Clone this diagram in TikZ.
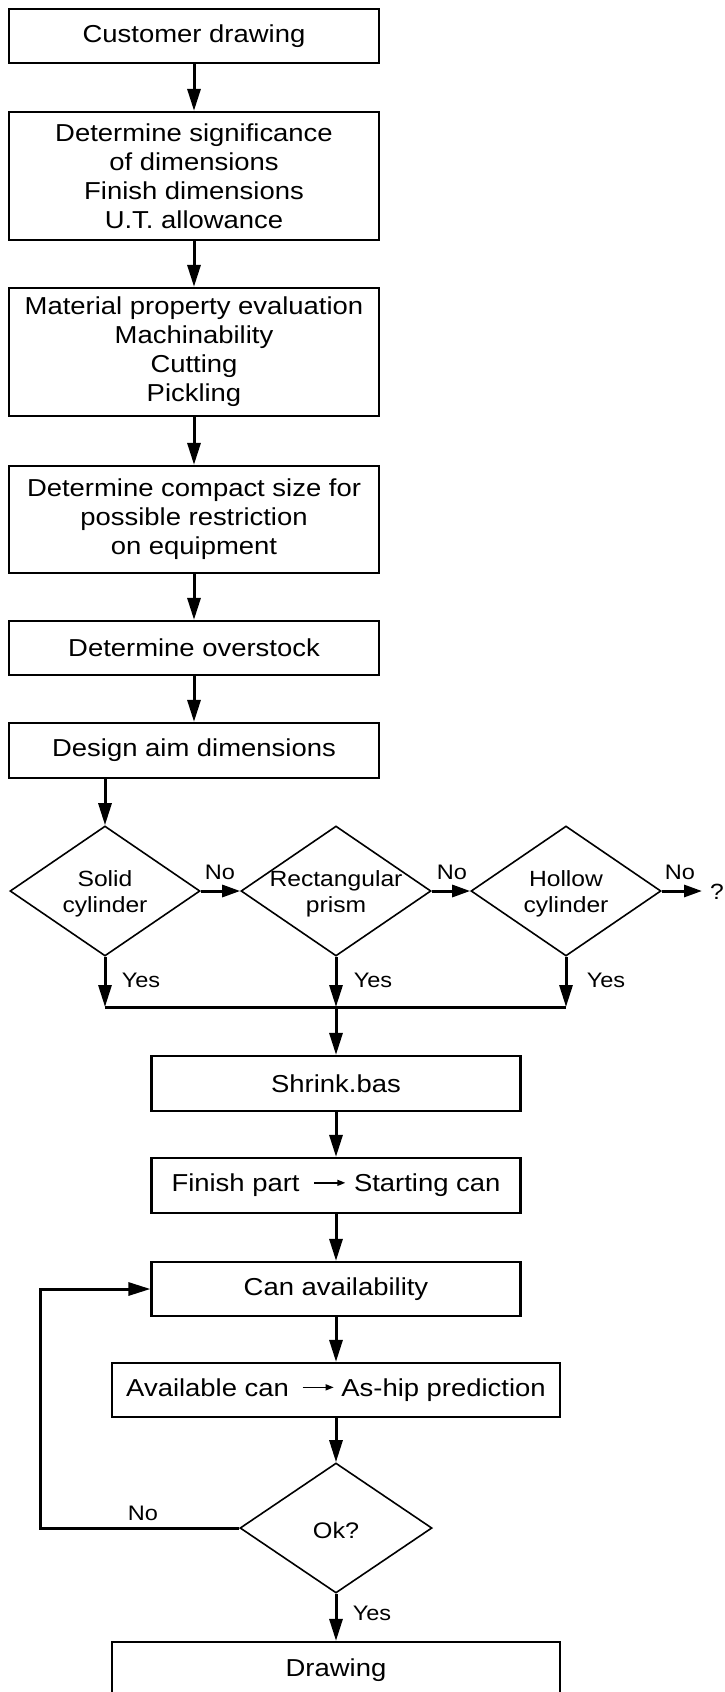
\documentclass[tikz,border=0pt]{standalone}
\usepackage{fontspec}
\setmainfont{Liberation Sans}[FakeStretch=1.12]
\usetikzlibrary{shapes.geometric,arrows.meta}
\begin{document}
\begin{tikzpicture}[x=1pt,y=-1pt,
  box/.style={draw, line width=2.2pt, rectangle, align=center, inner sep=0pt, font=\fontsize{24.5}{29}\selectfont},
  dia/.style={draw, line width=1.6pt, diamond, inner sep=0pt, minimum width=190pt, minimum height=130pt},
  dtext/.style={align=center, inner sep=0pt, font=\fontsize{22}{26}\selectfont},
  lbl/.style={inner sep=0pt, font=\fontsize{21}{25}\selectfont},
  arr/.style={line width=3pt, -{Triangle[length=22pt,width=13pt]}},
  arrs/.style={line width=3pt, -{Triangle[length=18pt,width=12pt]}},
  plain/.style={line width=3pt},
]
\useasboundingbox (0,0) rectangle (724,1692);
\clip (0,0) rectangle (724,1692);
\newcommand{\inarrow}{\tikz[baseline=-9pt]\draw[line width=1.4pt,-{Triangle[length=8pt,width=6pt]}] (0pt,0pt)--(31pt,0pt);}

% column 1
\node[box, minimum width=370pt, minimum height=54pt] (b1) at (194,36) {Customer drawing};
\node[box, minimum width=370pt, minimum height=128pt] (b2) at (194,176) {Determine significance\\of dimensions\\Finish dimensions\\U.T. allowance};
\node[box, minimum width=370pt, minimum height=128pt] (b3) at (194,352) {Material property evaluation\\Machinability\\Cutting\\Pickling};
\node[box, minimum width=370pt, minimum height=107pt] (b4) at (194,519.5) {Determine compact size for\\possible restriction\\on equipment};
\node[box, minimum width=370pt, minimum height=54pt] (b5) at (194,648) {Determine overstock};
\node[box, minimum width=370pt, minimum height=55pt] (b6) at (194,750.5) {Design aim dimensions};

\draw[arr] (b1) -- (b2);
\draw[arr] (b2) -- (b3);
\draw[arr] (b3) -- (b4);
\draw[arr] (b4) -- (b5);
\draw[arr] (b5) -- (b6);

% decisions
\node[dia] (d1) at (105,891) {};
\node[dia] (d2) at (336,891) {};
\node[dia] (d3) at (566,891) {};
\node[dtext] (d1t) at (105,894) {Solid\\cylinder};
\node[dtext] (d2t) at (336,894) {Rectangular\\prism};
\node[dtext] (d3t) at (566,894) {Hollow\\cylinder};

\draw[arr] (b6.south -| d1.north) -- (d1.north);
\draw[arrs] (d1.east) -- (d2.west);
\draw[arrs] (d2.east) -- (d3.west);
\coordinate (qa) at (702,891);
\draw[arrs] (d3.east) -- (qa);
\node[dtext] (qm) at (717,892) {?};
\node[lbl] (no1) at (220,872) {No};
\node[lbl] (no2) at (452,872) {No};
\node[lbl] (no3) at (680,872) {No};

\coordinate (y1) at (105,1007);
\coordinate (y2) at (336,1007);
\coordinate (y3) at (566,1007);
\draw[arr] (d1.south) -- (y1);
\draw[arr] (d2.south) -- (y2);
\draw[arr] (d3.south) -- (y3);
\draw[plain] (y1) -- (y3);
\node[lbl] (ys1) at (141,980) {Yes};
\node[lbl] (ys2) at (373,980) {Yes};
\node[lbl] (ys3) at (606,980) {Yes};

% column 2
\node[box, minimum width=369pt, minimum height=55pt] (sh) at (336,1083.5) {Shrink.bas};
\node[box, minimum width=369pt, minimum height=55pt] (fp) at (336,1185.5) {Finish part\hspace{14pt}\inarrow\hspace{8pt}Starting can};
\node[box, minimum width=369pt, minimum height=54pt] (ca) at (336,1289) {Can availability};
\node[box, minimum width=448pt, minimum height=54pt] (av) at (336,1390) {Available can\hspace{13pt}\inarrow\hspace{7pt}As-hip prediction};
\node[dia, minimum width=192pt] (ok) at (336,1528) {};
\node[dtext, font=\fontsize{22.5}{26}\selectfont] (okt) at (336,1530) {Ok?};
\node[box, minimum width=448pt, minimum height=76pt, text depth=0pt] (dr) at (336,1680) {};
\node[inner sep=0pt, font=\fontsize{24.5}{29}\selectfont] (drt) at (336,1670) {Drawing};

\draw[arr] (y2) -- (sh.north);
\draw[arr] (sh) -- (fp);
\draw[arr] (fp) -- (ca);
\draw[arr] (ca) -- (av);
\draw[arr] (av) -- (ok.north);
\draw[arr] (ok.south) -- (dr.north);
\node[lbl] (ys4) at (372,1613) {Yes};

\coordinate (lp) at (40,1528);
\draw[arr] (ok.west) -- (lp) |- (ca.west);
\node[lbl] (no4) at (143,1513) {No};
\end{tikzpicture}
\end{document}
